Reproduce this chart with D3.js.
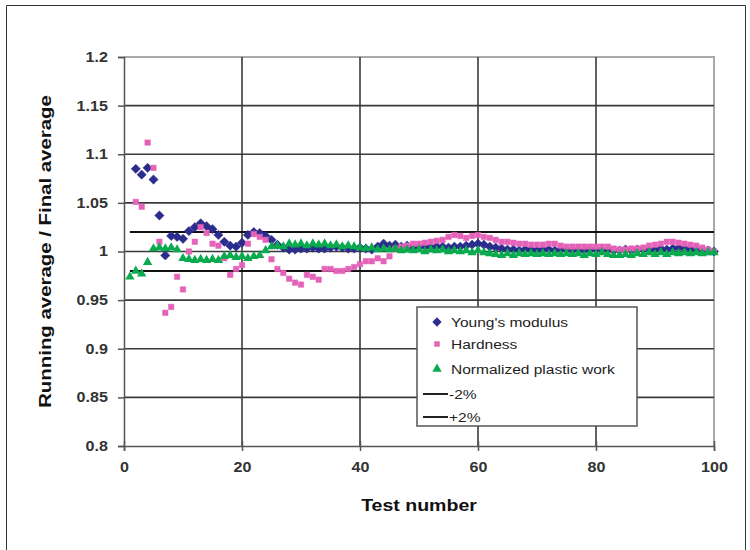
<!DOCTYPE html>
<html lang="en">
<head>
<meta charset="UTF-8">
<title>Running average / Final average</title>
<style>
  body { margin: 0; background: #fff; }
  text { font-family: "Liberation Sans", Arial, sans-serif; }
</style>
</head>
<body>
<svg id="chart" width="750" height="550"></svg>
<script src="https://cdnjs.cloudflare.com/ajax/libs/d3/7.8.5/d3.min.js"></script>
<script>
// running average / final average, tests 1..100 (null = no point)
var youngs = [null, 1.085, 1.079, 1.086, 1.074, 1.037, 0.996, 1.016, 1.015, 1.013,
  1.021, 1.025, 1.029, 1.026, 1.023, 1.017, 1.010, 1.006, 1.005, 1.009,
  1.017, 1.020, 1.019, 1.016, 1.012, 1.007, 1.004, 1.002, 1.002, 1.003,
  1.003, 1.004, 1.003, 1.003, 1.004, 1.005, 1.004, 1.003, 1.003, 1.004,
  1.003, 1.002, 1.005, 1.008, 1.006, 1.007, 1.005, 1.006, 1.004, 1.005,
  1.005, 1.004, 1.005, 1.005, 1.004, 1.005, 1.005, 1.006, 1.007, 1.008,
  1.007, 1.005, 1.004, 1.003, 1.002, 1.002, 1.001, 1.002, 1.002, 1.001,
  1.002, 1.002, 1.001, 1.002, 1.002, 1.001, 1.002, 1.001, 1.002, 1.002,
  1.001, 1.002, 1.001, 1.001, 1.002, 1.001, 1.002, 1.002, 1.001, 1.002,
  1.003, 1.002, 1.003, 1.004, 1.003, 1.003, 1.002, 1.002, 1.001, 1.000];

var hardness = [null, 1.051, 1.046, 1.112, 1.086, 1.010, 0.937, 0.943, 0.974, 0.961,
  1.000, 1.010, 1.025, 1.019, 1.008, 1.006, 0.993, 0.976, 0.982, 0.986,
  1.008, 1.018, 1.015, 1.012, 0.992, 0.982, 0.978, 0.972, 0.968, 0.966,
  0.976, 0.974, 0.971, 0.982, 0.982, 0.980, 0.980, 0.982, 0.984, 0.987,
  0.990, 0.990, 0.993, 0.990, 0.995, 1.003, 1.005, 1.006, 1.008, 1.008,
  1.009, 1.010, 1.011, 1.012, 1.015, 1.017, 1.016, 1.014, 1.016, 1.017,
  1.015, 1.014, 1.012, 1.010, 1.010, 1.009, 1.008, 1.008, 1.007, 1.007,
  1.007, 1.008, 1.008, 1.006, 1.005, 1.005, 1.005, 1.005, 1.005, 1.005,
  1.005, 1.005, 1.003, 1.002, 1.002, 1.003, 1.003, 1.004, 1.006, 1.007,
  1.008, 1.010, 1.010, 1.009, 1.008, 1.007, 1.006, 1.004, 1.002, 1.000];

var plasticWork = [0.974, 0.980, 0.977, 0.989, 1.003, 1.004, 1.003, 1.004, 1.002, 0.993,
  0.992, 0.991, 0.992, 0.991, 0.992, 0.991, 0.995, 0.996, 0.994, 0.995,
  0.993, 0.995, 0.996, 1.001, 1.005, 1.006, 1.005, 1.008, 1.007, 1.008,
  1.006, 1.008, 1.007, 1.008, 1.006, 1.007, 1.005, 1.006, 1.005, 1.004,
  1.003, 1.004, 1.002, 1.003, 1.002, 1.003, 1.001, 1.002, 1.001, 1.002,
  1.000, 1.002, 1.001, 1.002, 1.000, 1.001, 1.000, 1.001, 0.999, 1.001,
  0.999, 0.998, 0.997, 0.996, 0.998, 0.996, 0.998, 0.997, 0.998, 0.997,
  0.998, 0.997, 0.998, 0.997, 0.998, 0.997, 0.998, 0.996, 0.998, 0.997,
  0.999, 0.997, 0.996, 0.996, 0.997, 0.996, 0.998, 0.997, 0.999, 0.997,
  0.999, 0.997, 0.999, 0.998, 0.999, 0.998, 0.999, 0.998, 0.999, 0.999];

var bandLines = [{ name: "-2%", value: 0.98 }, { name: "+2%", value: 1.02 }];
var yTicks = [0.8, 0.85, 0.9, 0.95, 1, 1.05, 1.1, 1.15, 1.2];
var xTicks = [0, 20, 40, 60, 80, 100];

// the original image is a bit wide: text is stretched horizontally
var wide = 1.15;

var svg = d3.select("#chart");

// outer frame
svg.append("path")
   .attr("d", "M6.5,560V5.5H745.5V560")
   .attr("fill", "none")
   .attr("stroke", "#333")
   .attr("stroke-width", 1);

var plotLeft = 124, plotRight = 714, plotTop = 57, plotBottom = 446;

var x = d3.scaleLinear().domain([0, 100]).range([plotLeft, plotRight]);
var y = d3.scaleLinear().domain([0.8, 1.2]).range([plotBottom, plotTop]);

// plot area border (top/right)
svg.append("path")
   .attr("d", "M" + plotLeft + "," + plotTop + "H" + plotRight + "V" + plotBottom)
   .attr("fill", "none")
   .attr("stroke", "#aaa")
   .attr("stroke-width", 2);

// gridlines
svg.append("g")
   .selectAll("line")
   .data(yTicks.filter(d => d > 0.8 && d < 1.2))
   .enter().append("line")
   .attr("x1", plotLeft).attr("x2", plotRight)
   .attr("y1", d => y(d)).attr("y2", d => y(d))
   .attr("stroke", "#3a3a3a")
   .attr("stroke-width", 1.6);

svg.append("g")
   .selectAll("line")
   .data(xTicks.filter(d => d > 0 && d < 100))
   .enter().append("line")
   .attr("x1", d => x(d)).attr("x2", d => x(d))
   .attr("y1", plotTop).attr("y2", plotBottom)
   .attr("stroke", "#3a3a3a")
   .attr("stroke-width", 1.6);

// +/-2% lines
svg.append("g")
   .selectAll("line")
   .data(bandLines)
   .enter().append("line")
   .attr("x1", x(1)).attr("x2", x(100))
   .attr("y1", d => y(d.value)).attr("y2", d => y(d.value))
   .attr("stroke", "#111")
   .attr("stroke-width", 2);

// axes
var yAxis = svg.append("g")
   .attr("transform", "translate(" + plotLeft + ",0)")
   .call(d3.axisLeft(y).tickValues(yTicks).tickSize(6).tickPadding(8)
         .tickFormat(d => String(+d.toFixed(2))));
var xAxis = svg.append("g")
   .attr("transform", "translate(0," + plotBottom + ")")
   .call(d3.axisBottom(x).tickValues(xTicks).tickSize(5).tickPadding(11));

[yAxis, xAxis].forEach(function(a) {
  a.select(".domain").attr("stroke", "#555").attr("stroke-width", 1.5);
  a.selectAll(".tick line").attr("stroke", "#555").attr("stroke-width", 1.5);
  a.selectAll(".tick text")
   .attr("fill", "#333")
   .attr("transform", "scale(" + wide + ",1)")
   .style("font-size", "14px")
   .style("font-weight", "bold")
   .style("font-family", "'Liberation Sans', Arial, sans-serif");
});
xAxis.selectAll(".tick line").attr("y1", -5);

// series
function pts(arr) {
  return arr.map((v, i) => ({ t: i + 1, v: v })).filter(d => d.v !== null);
}

var series = [
  { name: "Young's modulus", data: youngs, color: "#2b2d8c", shape: d3.symbolDiamond2, size: 55 },
  { name: "Hardness", data: hardness, color: "#e462b8", shape: d3.symbolSquare2, size: 38 },
  { name: "Normalized plastic work", data: plasticWork, color: "#0aaa4f", shape: d3.symbolTriangle, size: 38 }
];

series.forEach(function(s) {
  svg.append("g")
     .selectAll("path")
     .data(pts(s.data))
     .enter().append("path")
     .attr("transform", d => "translate(" + x(d.t) + "," + y(d.v) + ")")
     .attr("d", d3.symbol().type(s.shape).size(s.size))
     .attr("fill", s.color)
     .attr("stroke", s.color)
     .attr("stroke-width", s.shape === d3.symbolTriangle ? 0 : 0.5);
});

// axis titles
svg.append("g")
   .attr("transform", "translate(51," + ((plotTop + plotBottom) / 2) + ") rotate(-90) scale(" + (wide + 0.05) + ",1)")
   .append("text")
   .attr("text-anchor", "middle")
   .style("font-size", "17px")
   .style("font-weight", "bold")
   .attr("fill", "#111")
   .text("Running average / Final average");

svg.append("g")
   .attr("transform", "translate(" + ((plotLeft + plotRight) / 2) + ",511) scale(" + wide + ",1)")
   .append("text")
   .attr("text-anchor", "middle")
   .style("font-size", "17px")
   .style("font-weight", "bold")
   .attr("fill", "#111")
   .text("Test number");

// legend
var legend = svg.append("g").attr("transform", "translate(417,307)");
legend.append("rect")
      .attr("width", 220).attr("height", 119)
      .attr("fill", "#fff")
      .attr("stroke", "#555")
      .attr("stroke-width", 1.5);

var legendRows = series.map(s => ({ name: s.name, s: s }))
  .concat(bandLines.map(b => ({ name: b.name, line: true })));
var rowY = [15, 37, 62, 87, 110];

legendRows.forEach(function(r, i) {
  var g = legend.append("g").attr("transform", "translate(0," + rowY[i] + ")");
  var tx;
  if (r.line) {
    g.append("line").attr("x1", 6).attr("x2", 31)
     .attr("stroke", "#222").attr("stroke-width", 2);
    tx = 32;
  } else {
    g.append("path")
     .attr("transform", "translate(20,0)")
     .attr("d", d3.symbol().type(r.s.shape).size(r.s.size))
     .attr("fill", r.s.color);
    tx = 34;
  }
  g.append("g")
   .attr("transform", "translate(" + tx + ",0) scale(" + wide + ",1)")
   .append("text").attr("dy", "0.35em")
   .style("font-size", "13.5px").attr("fill", "#222").text(r.name);
});
</script>
</body>
</html>
